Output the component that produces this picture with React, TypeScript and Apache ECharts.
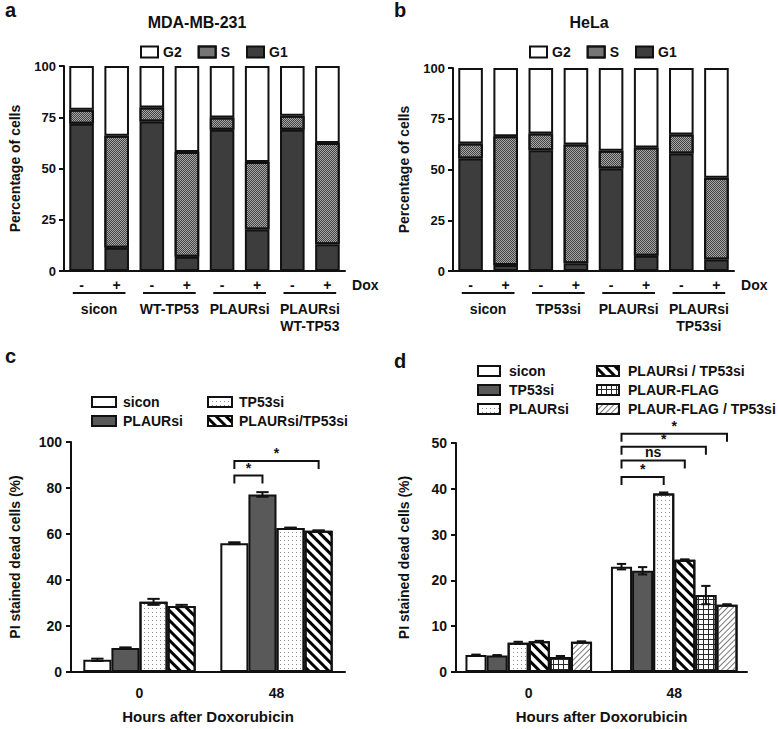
import React, { useEffect, useRef } from 'react';
import * as echarts from 'echarts';

const FONT = '"Liberation Sans", Arial, Helvetica, sans-serif';
const INK = '#111111';

// ---------- Panel a (MDA-MB-231) ----------
const doxLabels = ['-', '+', '-', '+', '-', '+', '-', '+'];
const groupsA = ['sicon', 'WT-TP53', 'PLAURsi', 'PLAURsi\nWT-TP53'];
const g1A = [71.8, 11.3, 72.9, 7.0, 68.9, 20.3, 68.9, 13.0];
const sA = [6.8, 54.7, 6.8, 51.0, 6.0, 32.9, 6.8, 49.4];
const g2A = [21.4, 34.0, 20.3, 42.0, 25.1, 46.8, 24.3, 37.6];

// ---------- Panel b (HeLa) ----------
const groupsB = ['sicon', 'TP53si', 'PLAURsi', 'PLAURsi\nTP53si'];
const g1B = [55.4, 3.0, 59.5, 3.8, 50.5, 7.5, 57.9, 5.7];
const sB = [7.4, 63.4, 8.2, 58.5, 8.7, 53.3, 9.3, 40.2];
const g2B = [37.2, 33.6, 32.3, 37.7, 40.8, 39.2, 32.8, 54.1];

// ---------- Panel c ----------
const hours = ['0', '48'];
const cSicon = [5.3, 56.0];
const cSiconErr = [0.5, 0.4];
const cPlaur = [10.4, 77.2];
const cPlaurErr = [0.3, 1.0];
const cTp53 = [30.5, 62.6];
const cTp53Err = [1.3, 0.2];
const cBoth = [28.7, 61.4];
const cBothErr = [0.5, 0.2];
const bracketsC = [
  { from: 0, to: 1, y: 85.4, label: '*' },
  { from: 0, to: 3, y: 91.7, label: '*' },
];

// ---------- Panel d ----------
const dSicon = [3.7, 23.0];
const dSiconErr = [0.1, 0.6];
const dTp53 = [3.6, 22.1];
const dTp53Err = [0.1, 0.8];
const dPlaur = [6.4, 39.0];
const dPlaurErr = [0.2, 0.2];
const dPlaurTp53 = [6.7, 24.5];
const dPlaurTp53Err = [0.1, 0.1];
const dFlag = [3.3, 16.8];
const dFlagErr = [0.2, 2.0];
const dFlagTp53 = [6.6, 14.7];
const dFlagTp53Err = [0.1, 0.1];
const bracketsD = [
  { from: 0, to: 2, y: 42.6, label: '*' },
  { from: 0, to: 3, y: 46.2, label: 'ns' },
  { from: 0, to: 4, y: 49.2, label: '*' },
  { from: 0, to: 5, y: 52.0, label: '*' },
];

// ---------- styles ----------
const bold = (size: number) => ({ fontFamily: FONT, fontWeight: 'bold' as const, fontSize: size, color: INK });
const axisLineStyle = { color: INK, width: 2 };

const DEC_S = { symbol: 'rect', symbolSize: 1, color: '#444444', dashArrayX: [[1, 1], [0, 1, 1, 0]], dashArrayY: [1, 0] };
const DEC_STRIPE = { symbol: 'rect', symbolSize: 1, color: '#000000', dashArrayX: [1, 0], dashArrayY: [3, 4], rotation: Math.PI / 4 };
const DEC_DOTS = { symbol: 'rect', symbolSize: 1, color: '#8c8c8c', dashArrayX: [1, 3], dashArrayY: [1, 3] };
const DEC_GRID = { symbol: 'rect', symbolSize: 1, color: '#ffffff', dashArrayX: [4, 1], dashArrayY: [4, 1] };
const DEC_HATCH = { symbol: 'rect', symbolSize: 1, color: '#7a7a7a', dashArrayX: [1, 0], dashArrayY: [1, 2.5], rotation: -Math.PI / 4 };

const barBorder = { borderColor: INK, borderWidth: 2 };

function gtext(text: string, x: number, y: number, size: number, align = 'center', vAlign = 'middle', lineHeight?: number) {
  return {
    type: 'text',
    x,
    y,
    silent: true,
    style: {
      text,
      fill: INK,
      font: `bold ${size}px ${FONT}`,
      textAlign: align,
      textVerticalAlign: vAlign,
      align,
      verticalAlign: vAlign,
      lineHeight: lineHeight ?? Math.round(size * 1.2),
    },
  };
}

type StackCfg = {
  title: string;
  titleX: number;
  letter: string;
  groups: string[];
  g1: number[];
  s: number[];
  g2: number[];
  grid: { left: number; top: number; width: number; height: number };
  legendLeft: number;
};

function buildStacked(chart: any, cfg: StackCfg) {
  chart.setOption({
    animation: false,
    grid: { ...cfg.grid },
    legend: {
      data: ['G2', 'S', 'G1'],
      left: cfg.legendLeft,
      top: 40,
      icon: 'rect',
      itemWidth: 17,
      itemHeight: 11,
      itemGap: 16,
      selectedMode: false,
      textStyle: { ...bold(14) },
    },
    xAxis: {
      type: 'category',
      data: doxLabels,
      axisLine: { lineStyle: axisLineStyle },
      axisTick: { alignWithLabel: true, interval: 0, length: 5, lineStyle: axisLineStyle },
      axisLabel: { ...bold(14), interval: 0, margin: 7 },
    },
    yAxis: {
      type: 'value',
      min: 0,
      max: 100,
      interval: 25,
      name: 'Percentage of cells',
      nameLocation: 'middle',
      nameGap: 42,
      nameTextStyle: bold(14),
      axisLine: { show: true, lineStyle: axisLineStyle },
      axisTick: { show: true, length: 5, lineStyle: axisLineStyle },
      splitLine: { show: false },
      axisLabel: { ...bold(13), margin: 8 },
    },
    series: [
      { name: 'G1', type: 'bar', stack: 'phase', data: cfg.g1, barCategoryGap: '30%', itemStyle: { color: '#3d3d3d', ...barBorder } },
      { name: 'S', type: 'bar', stack: 'phase', data: cfg.s, barCategoryGap: '30%', itemStyle: { color: '#a6a6a6', decal: DEC_S, ...barBorder } },
      { name: 'G2', type: 'bar', stack: 'phase', data: cfg.g2, barCategoryGap: '30%', itemStyle: { color: '#ffffff', ...barBorder } },
    ],
  });

  const px = (i: number) => chart.convertToPixel({ xAxisIndex: 0 }, i) as number;
  const band = px(1) - px(0);
  const axisY = cfg.grid.top + cfg.grid.height;
  const lineY = axisY + 22;
  const elements: any[] = [];
  cfg.groups.forEach((g, gi) => {
    const x1 = px(2 * gi) - band * 0.25;
    const x2 = px(2 * gi + 1) + band * 0.25;
    elements.push({ type: 'line', silent: true, shape: { x1, y1: lineY, x2, y2: lineY }, style: { stroke: INK, lineWidth: 2 } });
    elements.push(gtext(g, (x1 + x2) / 2, lineY + 7, 14, 'center', 'top', 17));
  });
  elements.push(gtext('Dox', px(doxLabels.length - 1) + band * 0.7, axisY + 14, 14, 'left', 'middle'));
  elements.push(gtext(cfg.title, cfg.titleX, 22, 16, 'center', 'middle'));
  elements.push(gtext(cfg.letter, 5, 10, 20, 'left', 'middle'));
  chart.setOption({ graphic: { elements } });
}

type BarDef = { name: string; values: number[]; err: number[]; itemStyle: any };
type LegendDef = { names: string[]; left: number };
type GroupCfg = {
  letter: string;
  letterY: number;
  defs: BarDef[];
  brackets: { from: number; to: number; y: number; label: string }[];
  yMax: number;
  yInterval: number;
  gap: number;
  grid: { left: number; top: number; width: number; height: number };
  legends: LegendDef[];
  legendTop: number;
  legendIconW: number;
  legendTextPad: number;
  yNameGap: number;
};

function buildGrouped(chart: any, cfg: GroupCfg) {
  const n = cfg.defs.length;
  const gap = cfg.gap;
  const centerX = (api: any, ci: number, si: number) => {
    const band = api.size([1, 0])[0];
    const gw = band * (1 - gap);
    const bw = gw / n;
    return { x: api.coord([ci, 0])[0] - gw / 2 + (si + 0.5) * bw, bw };
  };
  const errData: number[][] = [];
  cfg.defs.forEach((d, si) => d.values.forEach((v, ci) => errData.push([ci, v, d.err[ci], si])));

  chart.setOption({
    animation: false,
    grid: { ...cfg.grid },
    legend: cfg.legends.map((l) => ({
      data: l.names,
      left: l.left,
      top: cfg.legendTop,
      orient: 'vertical',
      icon: 'rect',
      itemWidth: cfg.legendIconW,
      itemHeight: 10,
      itemGap: 5,
      selectedMode: false,
      textStyle: { ...bold(14), padding: [0, 0, 0, cfg.legendTextPad] },
    })),
    xAxis: {
      type: 'category',
      data: hours,
      name: 'Hours after Doxorubicin',
      nameLocation: 'middle',
      nameGap: 37,
      nameTextStyle: bold(15),
      axisLine: { lineStyle: axisLineStyle },
      axisTick: { alignWithLabel: true, length: 6, lineStyle: axisLineStyle },
      axisLabel: { ...bold(14), margin: 14 },
    },
    yAxis: {
      type: 'value',
      min: 0,
      max: cfg.yMax,
      interval: cfg.yInterval,
      name: 'PI stained dead cells (%)',
      nameLocation: 'middle',
      nameGap: cfg.yNameGap,
      nameTextStyle: bold(14),
      axisLine: { show: true, lineStyle: axisLineStyle },
      axisTick: { show: true, length: 5, lineStyle: axisLineStyle },
      splitLine: { show: false },
      axisLabel: { ...bold(14), margin: 9 },
    },
    series: [
      ...cfg.defs.map((d) => ({
        name: d.name,
        type: 'bar',
        data: d.values,
        barGap: '0%',
        barCategoryGap: `${Math.round(gap * 100)}%`,
        itemStyle: { ...d.itemStyle, ...barBorder },
      })),
      {
        type: 'custom',
        z: 5,
        silent: true,
        data: errData,
        renderItem: (_params: any, api: any) => {
          const ci = api.value(0);
          const v = api.value(1);
          const e = api.value(2);
          const si = api.value(3);
          const { x, bw } = centerX(api, ci, si);
          const yT = api.coord([ci, v + e])[1];
          const yB = api.coord([ci, v - e])[1];
          const cap = bw * 0.22;
          const st = { stroke: INK, lineWidth: 2 };
          return {
            type: 'group',
            children: [
              { type: 'line', shape: { x1: x, y1: yT, x2: x, y2: yB }, style: st },
              { type: 'line', shape: { x1: x - cap, y1: yT, x2: x + cap, y2: yT }, style: st },
              { type: 'line', shape: { x1: x - cap, y1: yB, x2: x + cap, y2: yB }, style: st },
            ],
          };
        },
      },
      {
        type: 'custom',
        z: 5,
        silent: true,
        clip: false,
        data: cfg.brackets.map((b) => [1, b.y, b.from, b.to]),
        renderItem: (params: any, api: any) => {
          const b = cfg.brackets[params.dataIndex];
          const x1 = centerX(api, 1, b.from).x;
          const x2 = centerX(api, 1, b.to).x;
          const y = api.coord([1, b.y])[1];
          const drop = 8;
          return {
            type: 'group',
            children: [
              {
                type: 'polyline',
                shape: { points: [[x1, y + drop], [x1, y], [x2, y], [x2, y + drop]] },
                style: { stroke: INK, lineWidth: 2, fill: 'none' },
              },
              {
                type: 'text',
                x: (x1 + x2) / 2,
                y: y - 1,
                style: {
                  text: b.label,
                  fill: INK,
                  font: `bold 14px ${FONT}`,
                  textAlign: 'center',
                  textVerticalAlign: 'bottom',
                  align: 'center',
                  verticalAlign: 'bottom',
                },
              },
            ],
          };
        },
      },
    ],
    graphic: { elements: [gtext(cfg.letter, 5, cfg.letterY, 20, 'left', 'middle')] },
  });
}

const buildA = (chart: any) =>
  buildStacked(chart, {
    title: 'MDA-MB-231',
    titleX: 197,
    letter: 'a',
    groups: groupsA,
    g1: g1A,
    s: sA,
    g2: g2A,
    grid: { left: 61, top: 66, width: 284, height: 205 },
    legendLeft: 135,
  });

const buildB = (chart: any) =>
  buildStacked(chart, {
    title: 'HeLa',
    titleX: 200,
    letter: 'b',
    groups: groupsB,
    g1: g1B,
    s: sB,
    g2: g2B,
    grid: { left: 63, top: 68, width: 282, height: 203 },
    legendLeft: 135,
  });

const buildC = (chart: any) =>
  buildGrouped(chart, {
    letter: 'c',
    letterY: 16,
    defs: [
      { name: 'sicon', values: cSicon, err: cSiconErr, itemStyle: { color: '#ffffff' } },
      { name: 'PLAURsi', values: cPlaur, err: cPlaurErr, itemStyle: { color: '#595959' } },
      { name: 'TP53si', values: cTp53, err: cTp53Err, itemStyle: { color: '#ffffff', decal: DEC_DOTS } },
      { name: 'PLAURsi/TP53si', values: cBoth, err: cBothErr, itemStyle: { color: '#ffffff', decal: DEC_STRIPE } },
    ],
    brackets: bracketsC,
    yMax: 100,
    yInterval: 20,
    gap: 0.18,
    grid: { left: 64, top: 102, width: 281, height: 235 },
    legends: [
      { names: ['sicon', 'PLAURsi'], left: 86 },
      { names: ['TP53si', 'PLAURsi/TP53si'], left: 202 },
    ],
    legendTop: 50,
    legendIconW: 24,
    legendTextPad: 2,
    yNameGap: 49,
  });

const buildD = (chart: any) =>
  buildGrouped(chart, {
    letter: 'd',
    letterY: 21,
    defs: [
      { name: 'sicon', values: dSicon, err: dSiconErr, itemStyle: { color: '#ffffff' } },
      { name: 'TP53si', values: dTp53, err: dTp53Err, itemStyle: { color: '#595959' } },
      { name: 'PLAURsi', values: dPlaur, err: dPlaurErr, itemStyle: { color: '#ffffff', decal: DEC_DOTS } },
      { name: 'PLAURsi / TP53si', values: dPlaurTp53, err: dPlaurTp53Err, itemStyle: { color: '#ffffff', decal: DEC_STRIPE } },
      { name: 'PLAUR-FLAG', values: dFlag, err: dFlagErr, itemStyle: { color: '#2a2a2a', decal: DEC_GRID } },
      { name: 'PLAUR-FLAG / TP53si', values: dFlagTp53, err: dFlagTp53Err, itemStyle: { color: '#ffffff', decal: DEC_HATCH } },
    ],
    brackets: bracketsD,
    yMax: 50,
    yInterval: 10,
    gap: 0.13,
    grid: { left: 67, top: 103, width: 291, height: 234 },
    legends: [
      { names: ['sicon', 'TP53si', 'PLAURsi'], left: 83 },
      { names: ['PLAURsi / TP53si', 'PLAUR-FLAG', 'PLAUR-FLAG / TP53si'], left: 202 },
    ],
    legendTop: 19,
    legendIconW: 22,
    legendTextPad: 4,
    yNameGap: 45,
  });

function ChartPanel({ left, top, width, height, build }: { left: number; top: number; width: number; height: number; build: (c: any) => void }) {
  const ref = useRef<HTMLDivElement>(null);
  useEffect(() => {
    if (!ref.current) return;
    const chart = echarts.init(ref.current, undefined, { renderer: 'svg' });
    build(chart);
    return () => chart.dispose();
  }, [build]);
  return <div ref={ref} style={{ position: 'absolute', left, top, width, height }} />;
}

export default function App() {
  return (
    <div style={{ position: 'absolute', left: 0, top: 0, width: 778, height: 729, background: '#ffffff', overflow: 'hidden' }}>
      <ChartPanel left={0} top={0} width={389} height={340} build={buildA} />
      <ChartPanel left={389} top={0} width={389} height={340} build={buildB} />
      <ChartPanel left={0} top={340} width={389} height={389} build={buildC} />
      <ChartPanel left={389} top={340} width={389} height={389} build={buildD} />
    </div>
  );
}
